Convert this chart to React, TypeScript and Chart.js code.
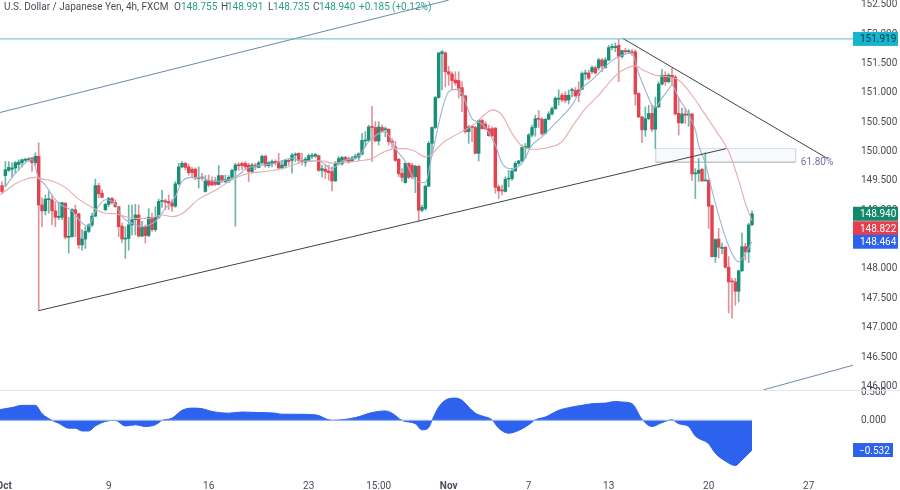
import { useEffect, useRef } from 'react';
import Chart from 'chart.js/auto';

const opens = [
  149.42,149.59,149.68,149.70,149.72,149.78,149.81,149.85,149.86,149.89,
  149.81,149.92,149.09,148.99,149.18,149.18,148.99,148.88,148.88,149.12,
  148.54,148.55,149.01,148.94,148.41,148.51,148.64,148.75,148.90,149.42,
  149.29,149.01,149.10,149.20,149.13,149.06,148.73,148.51,148.52,148.75,
  148.84,148.92,148.56,148.72,148.57,148.88,148.67,148.88,149.15,149.16,
  149.15,149.13,149.07,149.45,149.74,149.80,149.74,149.70,149.70,149.54,
  149.56,149.32,149.50,149.50,149.50,149.44,149.59,149.49,149.50,149.56,
  149.68,149.77,149.80,149.80,149.77,149.66,149.77,149.73,149.81,149.92,
  149.76,149.80,149.83,149.83,149.72,149.76,149.85,149.85,149.94,149.97,
  149.85,149.81,149.85,149.92,149.92,149.93,149.68,149.70,149.67,149.66,
  149.50,149.80,149.79,149.90,149.88,149.84,149.89,149.90,149.96,150.18,
  150.19,150.42,150.41,150.18,150.41,150.37,150.38,150.18,150.08,149.87,
  149.63,149.47,149.80,149.77,149.57,149.75,149.00,149.03,149.41,150.14,
  150.41,150.92,151.67,151.68,151.36,151.32,151.22,151.21,151.09,150.95,
  150.34,150.43,150.41,149.97,150.53,150.47,150.39,150.39,150.40,149.40,
  149.34,149.32,149.53,149.54,149.67,149.80,149.84,150.07,150.07,150.28,
  150.41,150.56,150.55,150.31,150.55,150.64,150.73,150.89,150.96,150.96,
  150.88,151.04,151.04,151.05,151.06,151.32,151.34,151.36,151.43,151.43,
  151.56,151.43,151.56,151.77,151.77,151.81,151.62,151.72,151.70,151.70,
  151.70,150.99,150.59,150.37,150.56,150.65,150.38,150.76,151.15,151.30,
  151.19,151.30,151.27,150.65,150.49,150.64,150.62,150.64,149.62,149.63,
  149.70,149.50,149.51,149.08,148.21,148.51,148.35,148.37,148.03,147.79,
  147.78,147.62,147.97,148.38,148.29,148.755,
];
const highs = [
  149.49,149.83,149.83,149.81,149.83,149.86,149.87,149.89,149.90,149.90,
  149.98,150.15,149.21,149.26,149.32,149.26,149.15,149.14,149.13,149.13,
  148.88,149.03,149.09,148.95,148.67,148.72,148.77,148.95,149.53,149.46,
  149.35,149.12,149.22,149.22,149.18,149.07,148.78,148.72,149.09,149.09,
  149.10,149.09,148.81,148.75,149.03,148.95,149.06,149.19,149.34,149.19,
  149.26,149.18,149.49,149.80,149.83,149.82,149.79,149.73,149.72,149.74,
  149.63,149.59,149.60,149.57,149.56,149.76,149.60,149.60,149.59,149.70,
  149.80,149.81,149.82,149.83,149.80,149.80,149.80,149.83,149.94,149.94,
  149.83,149.86,149.86,149.97,149.85,149.86,149.87,149.97,149.98,149.98,
  149.97,149.90,149.96,149.97,149.97,149.94,149.77,149.77,149.77,149.74,
  149.83,149.92,149.92,149.92,149.91,149.92,149.96,149.98,150.31,150.34,
  150.45,150.77,150.51,150.51,150.45,150.42,150.39,150.22,150.17,149.88,
  149.71,149.81,149.81,149.80,149.77,149.77,149.09,149.43,150.17,150.42,
  150.94,151.69,151.72,151.70,151.45,151.36,151.36,151.36,151.19,150.96,
  150.45,150.45,150.43,150.54,150.55,150.51,150.45,150.42,150.41,149.43,
  149.43,149.57,149.68,149.70,149.83,149.85,150.11,150.14,150.31,150.45,
  150.62,150.70,150.58,150.56,150.68,150.76,150.93,151.05,150.99,151.02,
  151.05,151.08,151.09,151.19,151.36,151.39,151.39,151.46,151.46,151.59,
  151.59,151.60,151.81,151.83,151.85,151.91,151.73,151.76,151.74,151.74,
  151.73,151.00,150.60,150.76,150.79,150.79,150.93,151.19,151.40,151.36,
  151.33,151.42,151.30,150.91,150.74,150.74,150.71,150.65,149.71,149.88,
  149.71,149.98,149.53,149.09,148.52,148.69,148.44,148.38,148.21,147.84,
  147.84,147.98,148.61,148.44,148.78,148.991,
];
const lows = [
  149.28,149.40,149.66,149.56,149.63,149.69,149.74,149.83,149.83,149.66,
  149.77,147.29,148.72,148.92,148.95,148.75,148.72,148.84,148.84,148.51,
  148.27,148.54,148.55,148.35,148.32,148.35,148.62,148.72,148.89,149.21,
  149.21,148.99,149.06,149.11,149.05,148.55,148.45,148.18,148.32,148.58,
  148.58,148.54,148.55,148.44,148.55,148.64,148.64,148.86,149.05,149.01,
  149.01,148.98,149.05,149.43,149.72,149.69,149.60,149.55,149.52,149.38,
  149.51,149.31,149.40,149.42,149.42,149.43,149.47,149.47,149.47,149.52,
  148.73,149.68,149.69,149.69,149.49,149.63,149.69,149.72,149.79,149.73,
  149.73,149.74,149.77,149.70,149.70,149.72,149.77,149.63,149.83,149.81,
  149.77,149.75,149.84,149.88,149.90,149.66,149.57,149.54,149.51,149.33,
  149.49,149.77,149.77,149.82,149.80,149.83,149.87,149.85,149.94,150.08,
  150.17,149.83,150.17,150.11,150.34,150.25,150.11,150.07,149.83,149.57,
  149.49,149.46,149.54,149.54,149.30,148.82,148.97,149.00,149.40,149.94,
  150.39,150.91,151.05,151.10,151.13,151.05,151.13,150.91,150.68,150.31,
  150.14,150.17,149.96,149.84,150.38,150.37,150.26,150.25,149.29,149.20,
  149.26,149.31,149.40,149.51,149.66,149.77,149.83,149.88,150.05,150.25,
  150.26,150.41,150.28,150.30,150.54,150.62,150.72,150.79,150.85,150.83,
  150.81,150.93,150.93,150.85,151.05,151.22,151.22,151.33,151.32,151.39,
  151.36,151.42,151.55,151.73,151.70,151.19,151.59,151.67,151.67,151.64,
  150.79,150.58,150.15,150.26,150.54,150.34,150.05,150.75,151.13,151.13,
  151.17,151.13,150.62,150.28,150.47,150.48,150.43,149.51,149.20,149.49,
  149.49,149.50,148.69,148.20,148.11,148.19,148.26,148.01,147.25,147.16,
  147.38,147.44,147.95,148.15,148.11,148.735,
];
const closes = [
  149.32,149.69,149.73,149.72,149.81,149.82,149.86,149.87,149.87,149.81,
  149.92,149.09,148.99,149.19,149.19,148.99,148.88,148.89,149.13,148.54,
  148.55,149.01,148.94,148.41,148.51,148.64,148.75,148.90,149.42,149.28,
  149.22,149.10,149.20,149.13,149.06,148.72,148.51,148.52,148.75,148.84,
  148.92,148.56,148.71,148.57,148.88,148.67,148.88,149.15,149.16,149.14,
  149.12,149.07,149.45,149.74,149.80,149.73,149.64,149.64,149.55,149.56,
  149.55,149.50,149.43,149.43,149.44,149.59,149.51,149.52,149.56,149.68,
  149.77,149.76,149.76,149.74,149.66,149.77,149.74,149.81,149.92,149.76,
  149.81,149.83,149.81,149.72,149.77,149.85,149.83,149.94,149.95,149.85,
  149.83,149.87,149.93,149.93,149.95,149.68,149.71,149.66,149.64,149.50,
  149.80,149.88,149.90,149.85,149.83,149.89,149.92,149.96,150.19,150.19,
  150.42,150.41,150.18,150.42,150.35,150.39,150.17,150.15,149.85,149.62,
  149.56,149.80,149.56,149.57,149.75,149.00,149.05,149.41,150.14,150.41,
  150.92,151.68,151.70,151.36,151.32,151.21,151.17,151.08,150.95,150.34,
  150.42,150.41,149.97,150.53,150.39,150.39,150.27,150.27,149.39,149.33,
  149.33,149.53,149.54,149.67,149.80,149.84,150.07,150.08,150.28,150.41,
  150.56,150.55,150.30,150.55,150.64,150.73,150.91,150.91,150.88,150.87,
  150.96,151.05,150.95,150.96,151.33,151.34,151.25,151.43,151.34,151.56,
  151.46,151.56,151.77,151.79,151.79,151.62,151.72,151.70,151.71,151.68,
  150.98,150.59,150.37,150.56,150.65,150.38,150.76,151.15,151.30,151.19,
  151.30,151.26,150.64,150.49,150.64,150.62,150.64,149.62,149.63,149.68,
  149.50,149.51,149.07,148.21,148.50,148.37,148.37,148.03,147.78,147.78,
  147.62,147.97,148.38,148.29,148.75,148.940,
];

// moving averages, read at the bars where the line is easy to see
const slowBars = [-1,0,4,7,10,12,15,19,23,27,31,34,37,41,44,48,51,54,59,64,69,74,79,84,89,93,96,99,102,107,111,114,118,121,124,127,129,132,136,139,142,145,147,150,153,156,159,164,168,171,175,179,183,186,190,192,196,200,203,207,210,214,218,221,223,225];
const slowValues = [149.26,149.29,149.45,149.53,149.56,149.53,149.50,149.39,149.19,149.05,148.95,148.94,148.89,148.86,148.86,148.92,148.89,148.94,149.19,149.34,149.52,149.63,149.66,149.71,149.80,149.84,149.84,149.80,149.81,149.84,149.88,149.98,150.05,150.05,150.00,149.91,149.96,150.14,150.28,150.37,150.48,150.64,150.71,150.62,150.31,150.09,150.04,150.07,150.17,150.42,150.73,150.96,151.23,151.38,151.46,151.40,151.30,151.27,151.22,150.96,150.71,150.37,150.00,149.51,149.12,148.822];
const fastBars = [1,3,5,7,9,11,13,15,17,21,24,26,28,31,34,36,39,42,46,49,52,54,57,60,64,68,71,73,77,82,87,90,95,99,102,107,110,115,118,121,124,127,129,132,134,136,138,141,144,148,150,153,156,159,162,166,171,174,177,179,183,186,189,191,193,195,196,198,200,201,203,205,208,209,211,213,216,219,221,223,225];
const fastValues = [149.40,149.56,149.69,149.81,149.87,149.55,149.43,149.26,149.12,148.99,148.78,148.73,148.98,149.18,149.11,148.89,148.78,148.72,148.81,149.03,149.23,149.49,149.56,149.55,149.49,149.52,149.60,149.70,149.76,149.80,149.89,149.84,149.84,149.71,149.84,149.92,150.17,150.34,150.05,149.83,149.51,149.47,149.94,150.71,151.02,151.06,150.99,150.56,150.47,150.11,149.80,149.71,149.80,150.11,150.25,150.48,150.79,151.08,151.22,151.33,151.55,151.64,151.68,151.33,151.05,150.79,150.75,150.91,151.06,151.13,150.91,150.73,150.37,150.11,149.80,149.34,148.72,148.26,148.12,148.26,148.464];

// lower pane oscillator
const oscBars = [-1,0,3,6,10,12,15,17,20,22,24,26,28,31,34,37,40,43,46,48,51,54,57,60,63,68,72,77,82,84,88,94,99,106,111,115,117,120,124,126,128,129,131,134,136,138,140,142,144,147,149,152,155,158,160,163,167,171,174,177,181,184,186,189,192,195,198,201,203,206,208,212,214,217,220,222,225];
const oscValues = [0.19,0.20,0.23,0.27,0.27,0.12,0,-0.05,-0.14,-0.14,-0.19,-0.19,-0.10,-0.02,0,-0.10,-0.08,-0.11,-0.08,0,0.04,0.18,0.22,0.21,0.16,0.13,0.15,0.14,0.13,0.11,0.11,0.10,0,0.05,0.14,0.17,0.13,0,-0.06,-0.17,-0.13,0,0.24,0.39,0.40,0.36,0.24,0.13,0.08,0.01,-0.14,-0.23,-0.18,-0.08,0.01,0.06,0.18,0.24,0.27,0.30,0.31,0.34,0.33,0.30,0.02,-0.11,-0.04,0.01,-0.06,-0.11,-0.28,-0.42,-0.59,-0.73,-0.81,-0.71,-0.532];

const priceTicks = [146, 146.5, 147, 147.5, 148, 148.5, 149, 149.5, 150, 150.5, 151, 151.5, 152, 152.5];
const oscTicks = [0, 0.5];
const timeTickBars = [0.6, 32, 62, 92, 113, 134, 158, 182, 212, 242];
const timeTickLabels = ['Oct', '9', '16', '23', '15:00', 'Nov', '7', '13', '20', '27'];

const lastHigh = 151.919;
const risingLine = [{ x: 11, y: 147.29 }, { x: 217.2, y: 150.05 }];
const fallingLine = [{ x: 186.2, y: 151.93 }, { x: 247.7, y: 149.88 }];
const channelTop = [{ x: -1, y: 150.66 }, { x: 134, y: 152.58 }];
const channelBottom = [{ x: 228.4, y: 145.94 }, { x: 255.3, y: 146.36 }];
const boxBars = [196.1, 238.1];
const boxPrices = [150.05, 149.82];
const fibLabel = '61.80%';

const priceTags = [
  { value: 151.919, shift: 0, bg: '#17b3cf', fg: '#0b3c48' },
  { value: 148.94, shift: 0, bg: '#12896b', fg: '#ffffff' },
  { value: 148.822, shift: 7.5, bg: '#e63e4c', fg: '#ffffff' },
  { value: 148.464, shift: 0, bg: '#2c62ee', fg: '#ffffff' },
];
const oscTag = -0.532;

const legendParts = [
  { x: 4, text: 'U.S. Dollar / Japanese Yen, 4h, FXCM', color: '#4a4d55' },
  { x: 174, text: 'O', color: '#4a4d55' },
  { x: 181, text: '148.755', color: '#2a9d8a' },
  { x: 221, text: 'H', color: '#4a4d55' },
  { x: 227, text: '148.991', color: '#2a9d8a' },
  { x: 268, text: 'L', color: '#4a4d55' },
  { x: 273, text: '148.735', color: '#2a9d8a' },
  { x: 313, text: 'C', color: '#4a4d55' },
  { x: 319, text: '148.940', color: '#2a9d8a' },
  { x: 359, text: '+0.185', color: '#2a9d8a' },
  { x: 392, text: '(+0.12%)', color: '#2a9d8a' },
];

const FONT = 'Roboto, sans-serif';
const GREEN = '#1a8f78';
const RED = '#e2434f';
const GREEN_WICK = '#6db5a8';
const RED_WICK = '#e0929a';

const overlayPlugin = {
  id: 'overlay',
  afterDraw(chart: any) {
    const { ctx, scales } = chart;
    const price = scales.y;
    const osc = scales.osc;
    ctx.save();

    // pane separator
    ctx.strokeStyle = '#e3e5e8';
    ctx.lineWidth = 1;
    ctx.beginPath();
    ctx.moveTo(0, Math.round(price.bottom) + 0.5);
    ctx.lineTo(900, Math.round(price.bottom) + 0.5);
    ctx.stroke();

    ctx.textBaseline = 'middle';
    ctx.font = `10px ${FONT}`;
    ctx.fillStyle = '#7d6aa8';
    ctx.textAlign = 'center';
    ctx.fillText(fibLabel, scales.x.getPixelForValue(244.5), price.getPixelForValue(boxPrices[1]));

    // price tags on the axis
    ctx.textAlign = 'left';
    for (const tag of priceTags) {
      const y = price.getPixelForValue(tag.value) + tag.shift;
      ctx.fillStyle = tag.bg;
      ctx.fillRect(853, y - 7, 45, 14);
      ctx.fillStyle = tag.fg;
      ctx.fillText(tag.value.toFixed(3), 860, y + 1);
    }
    const oscY = osc.getPixelForValue(oscTag);
    ctx.fillStyle = '#2c62ee';
    ctx.fillRect(853, oscY - 7, 40, 14);
    ctx.fillStyle = '#ffffff';
    ctx.fillText('\u2212' + Math.abs(oscTag).toFixed(3), 859, oscY + 1);

    // header legend
    for (const part of legendParts) {
      ctx.fillStyle = part.color;
      ctx.fillText(part.text, part.x, 7);
    }
    ctx.restore();
  },
};

export default function App() {
  const canvasRef = useRef<HTMLCanvasElement>(null);

  useEffect(() => {
    if (!canvasRef.current) return;

    const bars = opens.map((_, i) => i);
    const upColors = bars.map(i => (closes[i] >= opens[i] ? GREEN : RED));
    const wickColors = bars.map(i => (closes[i] >= opens[i] ? GREEN_WICK : RED_WICK));

    const flatLine = (color: string, data: any[], width = 1, order = 1, yAxisID = 'y') => ({
      type: 'line' as const,
      data,
      borderColor: color,
      borderWidth: width,
      pointRadius: 0,
      fill: false,
      order,
      yAxisID,
    });

    const chart = new Chart(canvasRef.current, {
      type: 'bar',
      data: {
        datasets: [
          flatLine('#5fb9c9', [{ x: -1, y: lastHigh }, { x: 256, y: lastHigh }], 1, 1),
          flatLine('#3f4246', risingLine, 1, 1),
          flatLine('#3f4246', fallingLine, 1, 1),
          flatLine('#6f88a8', channelTop, 1, 1),
          flatLine('#6f88a8', channelBottom, 1, 1),
          {
            ...flatLine('#e4aeac', slowBars.map((x, i) => ({ x, y: slowValues[i] })), 1.1, 2),
            cubicInterpolationMode: 'monotone',
          },
          {
            ...flatLine('#9db3d4', fastBars.map((x, i) => ({ x, y: fastValues[i] })), 1.1, 2),
            cubicInterpolationMode: 'monotone',
          },
          {
            type: 'bar',
            data: bars.map(i => ({ x: i, y: [opens[i], closes[i]] })),
            backgroundColor: upColors,
            barThickness: 2.8,
            minBarLength: 1,
            grouped: false,
            order: 3,
            yAxisID: 'y',
          },
          {
            type: 'bar',
            data: bars.map(i => ({ x: i, y: [lows[i], highs[i]] })),
            backgroundColor: wickColors,
            barThickness: 1,
            grouped: false,
            order: 4,
            yAxisID: 'y',
          },
          // fib box
          {
            ...flatLine('#d5deeb', boxBars.map(x => ({ x, y: boxPrices[0] })), 1, 5),
            fill: '+1',
            backgroundColor: 'rgba(205,218,240,0.16)',
          },
          flatLine('#a3a6ad', boxBars.map(x => ({ x, y: boxPrices[1] })), 1, 5),
          flatLine('#d5deeb', boxPrices.map(y => ({ x: boxBars[0], y })), 1, 5),
          flatLine('#d5deeb', boxPrices.map(y => ({ x: boxBars[1], y })), 1, 5),
          // oscillator
          {
            ...flatLine('#2c62ee', oscBars.map((x, i) => ({ x, y: oscValues[i] })), 1, 7, 'osc'),
            fill: 'origin',
            backgroundColor: '#2c62ee',
            cubicInterpolationMode: 'monotone',
          },
          flatLine('#8fb0f0', [{ x: -1, y: 0 }, { x: 225, y: 0 }], 1.2, 6, 'osc'),
        ] as any,
      },
      options: {
        responsive: false,
        animation: false,
        layout: { padding: 0 },
        plugins: { legend: { display: false }, tooltip: { enabled: false } },
        scales: {
          x: {
            type: 'linear',
            offset: false,
            min: -0.61,
            max: 255.3,
            grid: { display: false, drawTicks: false },
            border: { display: false },
            afterBuildTicks: (scale: any) => {
              scale.ticks = timeTickBars.map(value => ({ value }));
            },
            afterFit: (scale: any) => {
              scale.paddingLeft = 0;
              scale.paddingRight = 0;
              scale.height = 18;
            },
            ticks: {
              autoSkip: false,
              maxRotation: 0,
              padding: 8,
              color: '#4a4d55',
              font: (ctx: any) => ({
                family: FONT,
                size: 10,
                weight: ctx.tick && (ctx.tick.label === 'Oct' || ctx.tick.label === 'Nov') ? 'bold' : 'normal',
              }),
              callback: (value: any) => timeTickLabels[timeTickBars.indexOf(value)],
            },
          },
          y: {
            type: 'linear',
            position: 'right',
            stack: 'panes',
            stackWeight: 390,
            min: 145.938,
            max: 152.582,
            grid: { display: false, drawTicks: false },
            border: { display: false },
            afterBuildTicks: (scale: any) => {
              scale.ticks = priceTicks.map(value => ({ value }));
            },
            afterFit: (scale: any) => {
              scale.width = 47;
              scale.paddingTop = 0;
              scale.paddingBottom = 0;
            },
            ticks: {
              autoSkip: false,
              padding: 8,
              color: '#4a4d55',
              font: { family: FONT, size: 10 },
              callback: (value: any) => Number(value).toFixed(3),
            },
          },
          osc: {
            type: 'linear',
            position: 'right',
            stack: 'panes',
            stackWeight: 82,
            min: -0.926,
            max: 0.545,
            grid: { display: false, drawTicks: false },
            border: { display: false },
            afterBuildTicks: (scale: any) => {
              scale.ticks = oscTicks.map(value => ({ value }));
            },
            afterFit: (scale: any) => {
              scale.width = 47;
              scale.paddingTop = 0;
              scale.paddingBottom = 0;
            },
            ticks: {
              autoSkip: false,
              padding: 8,
              color: '#4a4d55',
              font: { family: FONT, size: 10 },
              callback: (value: any) => Number(value).toFixed(3),
            },
          },
        },
      } as any,
      plugins: [overlayPlugin],
    });

    return () => chart.destroy();
  }, []);

  return (
    <div style={{ position: 'absolute', left: 0, top: 0, width: 900, height: 490, background: '#ffffff' }}>
      <canvas ref={canvasRef} width={900} height={490} style={{ display: 'block' }} />
    </div>
  );
}
